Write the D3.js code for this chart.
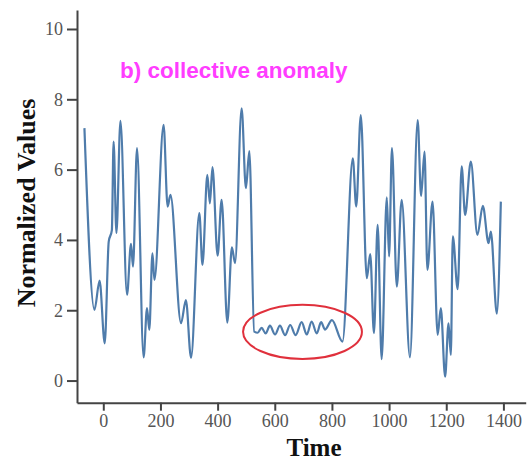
<!DOCTYPE html>
<html lang="en">

<head>
    <meta charset="UTF-8">
    <title>Collective anomaly</title>
    <script src="https://d3js.org/d3.v7.min.js"></script>
    <style>
        body {
            margin: 0;
            background: #fff;
        }

        .axis path,
        .axis line {
            stroke: #444;
            stroke-width: 2px;
        }

        .axis text {
            font: 18px "Liberation Serif", serif;
            fill: #555;
        }

        .axis-label {
            font: bold 25px "Liberation Serif", serif;
            fill: #111;
        }

        .ylabel {
            font-size: 26px;
        }

        .title {
            font: bold 22.5px "Liberation Sans", Arial, sans-serif;
            fill: #ff3dff;
        }

        .series {
            fill: none;
            stroke: #4f7cab;
            stroke-width: 2.2px;
        }

        .marker {
            fill: none;
            stroke: #e0303c;
            stroke-width: 2px;
        }
    </style>
</head>

<body>
    <script>
        // series (peaks and troughs)
        const times = [-66, -31, -13, 5, 19, 30, 36, 46, 60, 83, 97, 104, 118, 141, 153, 161, 172, 179, 211, 225, 235,
            272, 289, 307, 336, 347, 364, 373, 382, 400, 414, 434, 450, 461, 484, 499, 511,
            528, 540, 554, 568, 583, 601, 618, 636, 654, 673, 694, 712, 729, 747, 762, 776, 800, 837,
            873, 885, 901, 922, 934, 947, 960, 974, 992, 1000, 1010, 1027, 1044, 1073, 1100, 1112, 1124,
            1134, 1152, 1170, 1181, 1196, 1208, 1216, 1223, 1240, 1254, 1266, 1286, 1309, 1328, 1348, 1356, 1377, 1391];
        const values = [7.18, 2.01, 2.84, 1.06, 3.95, 4.28, 6.8, 4.2, 7.39, 2.44, 3.89, 3.24, 6.61, 0.66, 2.06, 1.44, 3.62, 2.86, 7.27, 4.95, 5.28,
            1.63, 2.29, 0.65, 4.76, 3.29, 5.85, 5.04, 6.07, 3.55, 5.14, 1.65, 3.79, 3.34, 7.74, 5.47, 6.53,
            1.39, 1.36, 1.5, 1.34, 1.56, 1.31, 1.56, 1.29, 1.58, 1.29, 1.66, 1.31, 1.68, 1.34, 1.66, 1.45, 1.72, 1.11,
            6.32, 4.95, 7.55, 2.91, 3.6, 1.35, 4.43, 0.61, 5.21, 3.53, 6.61, 2.67, 5.14, 0.66, 7.41, 5.25, 6.51,
            3.15, 5.09, 1.3, 2.06, 0.11, 1.63, 0.73, 4.1, 2.6, 6.09, 4.71, 6.23, 4.14, 4.97, 3.91, 4.24, 1.9, 5.09];

        const xTicks = [0, 200, 400, 600, 800, 1000, 1200, 1400];
        const yTicks = [0, 2, 4, 6, 8, 10];
        const xDomain = [-92, 1478];
        const yDomain = [-0.63, 10.54];

        // anomaly ring: centre time, centre value, half-width (time), half-height (value)
        const ring = [697, 1.385, 208, 0.77];

        const titleText = "b) collective anomaly";
        const xLabel = "Time";
        const yLabel = "Normalized Values";

        const width = 531;
        const height = 466;
        const margin = { top: 10, right: 5.3, bottom: 63.3, left: 77 };

        const svg = d3.select("body").append("svg")
            .attr("width", width)
            .attr("height", height);

        const x = d3.scaleLinear().domain(xDomain).range([margin.left, width - margin.right]);
        const y = d3.scaleLinear().domain(yDomain).range([height - margin.bottom, margin.top]);

        const points = times.map((t, i) => ({ t, v: values[i] }));

        // Draw series
        const line = d3.line()
            .x(d => x(d.t))
            .y(d => y(d.v))
            .curve(d3.curveMonotoneX);

        svg.append("path")
            .datum(points)
            .attr("class", "series")
            .attr("d", line);

        // Anomaly ring
        svg.append("ellipse")
            .attr("class", "marker")
            .attr("cx", x(ring[0]))
            .attr("cy", y(ring[1]))
            .attr("rx", x(ring[0] + ring[2]) - x(ring[0]))
            .attr("ry", y(ring[1] - ring[3]) - y(ring[1]));

        // Axes
        svg.append("g")
            .attr("class", "axis")
            .attr("transform", `translate(0,${height - margin.bottom})`)
            .call(d3.axisBottom(x).tickValues(xTicks).tickFormat(d3.format("d"))
                .tickSizeInner(8).tickSizeOuter(0).tickPadding(4));

        svg.append("g")
            .attr("class", "axis")
            .attr("transform", `translate(${margin.left},0)`)
            .call(d3.axisLeft(y).tickValues(yTicks).tickFormat(d3.format("d"))
                .tickSizeInner(10).tickSizeOuter(0).tickPadding(4));

        // Labels
        svg.append("text")
            .attr("class", "axis-label")
            .attr("x", 314)
            .attr("y", 456)
            .attr("text-anchor", "middle")
            .text(xLabel);

        svg.append("text")
            .attr("class", "axis-label ylabel")
            .attr("transform", "translate(35,203) rotate(-90)")
            .attr("text-anchor", "middle")
            .text(yLabel);

        svg.append("text")
            .attr("class", "title")
            .attr("x", 120)
            .attr("y", 78)
            .text(titleText);
    </script>
</body>

</html>
